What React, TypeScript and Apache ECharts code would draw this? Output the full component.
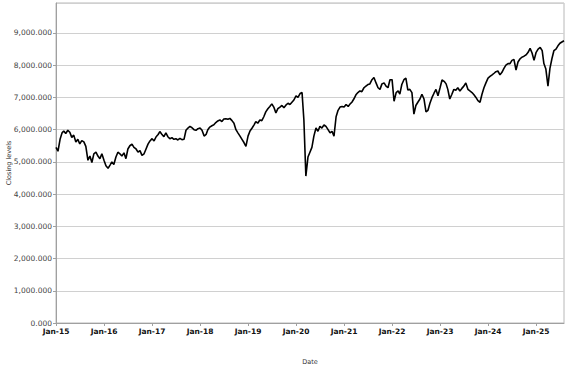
import React, { useEffect, useRef } from "react";
import * as echarts from "echarts";

const c2015 = [5450, 5330, 5700, 5900, 5960, 5880, 5980, 5920, 5760, 5830, 5620, 5700, 5560, 5660, 5620, 5480, 5050, 5180, 4980, 5250, 5300, 5180, 5100, 5250];
const c2016 = [5050, 4880, 4800, 4900, 5000, 4920, 5150, 5300, 5250, 5180, 5280, 5100, 5400, 5500, 5550, 5450, 5400, 5300, 5350, 5200, 5250, 5400, 5550, 5650];
const c2017 = [5720, 5650, 5780, 5850, 5940, 5860, 5780, 5900, 5780, 5720, 5750, 5700, 5720, 5680, 5730, 5690, 5700, 5980, 6050, 6100, 6060, 6000, 5980, 6030];
const c2018 = [6050, 5980, 5800, 5850, 6000, 6080, 6120, 6150, 6220, 6270, 6300, 6250, 6330, 6340, 6320, 6350, 6280, 6200, 6000, 5900, 5800, 5700, 5600, 5480];
const c2019 = [5800, 5960, 6050, 6150, 6250, 6200, 6300, 6280, 6400, 6550, 6650, 6720, 6800, 6700, 6520, 6650, 6700, 6750, 6680, 6760, 6820, 6780, 6850, 6920];
const c2020 = [7050, 7000, 7120, 7150, 6300, 4560, 5150, 5300, 5450, 5800, 6050, 5950, 6100, 6050, 6150, 6100, 6000, 5900, 5950, 5800, 6400, 6600, 6700, 6720];
const c2021 = [6700, 6780, 6720, 6800, 6850, 6950, 7080, 7150, 7200, 7180, 7300, 7350, 7400, 7420, 7550, 7620, 7450, 7300, 7250, 7420, 7450, 7350, 7300, 7550];
const c2022 = [7550, 6880, 7150, 7200, 7100, 7400, 7550, 7600, 7230, 7250, 7150, 6480, 6750, 6850, 6950, 7100, 6950, 6550, 6600, 6820, 7000, 7130, 7250, 7050];
const c2023 = [7300, 7540, 7500, 7420, 7250, 6950, 7100, 7250, 7220, 7300, 7200, 7280, 7350, 7450, 7250, 7200, 7150, 7080, 7000, 6900, 6850, 7100, 7300, 7450];
const c2024 = [7600, 7650, 7700, 7750, 7800, 7820, 7700, 7780, 7900, 8000, 8050, 8050, 8150, 8180, 7850, 8100, 8200, 8250, 8280, 8320, 8400, 8520, 8380, 8150];
const c2025 = [8400, 8500, 8550, 8450, 8050, 7880, 7350, 7900, 8200, 8450, 8500, 8600, 8680, 8720, 8760];

const yearlyCloses: [number, number[]][] = [
  [2015, c2015], [2016, c2016], [2017, c2017], [2018, c2018], [2019, c2019], [2020, c2020],
  [2021, c2021], [2022, c2022], [2023, c2023], [2024, c2024], [2025, c2025],
];

const xStart = Date.UTC(2015, 0, 1);
const xEnd = Date.UTC(2025, 7, 1);
const yearMs = 365.25 * 86400000;

export default function App() {
  const ref = useRef<HTMLDivElement>(null);
  useEffect(() => {
    if (!ref.current) return;
    const chart = echarts.init(ref.current, undefined, { renderer: "svg" });
    const data: [number, number][] = [];
    yearlyCloses.forEach(([year, vals]) => {
      vals.forEach((v, i) => {
        const month = Math.floor(i / 2);
        const day = i % 2 === 0 ? 1 : 16;
        data.push([Date.UTC(year, month, day), v]);
      });
    });
    chart.setOption({
      animation: false,
      backgroundColor: "#ffffff",
      grid: {
        left: 56, right: 13, top: 3, bottom: 44,
        show: true, borderColor: "#b8b8b8", borderWidth: 1,
        containLabel: false, outerBoundsMode: "none",
      },
      xAxis: {
        type: "value",
        min: xStart,
        max: xEnd,
        interval: yearMs,
        name: "Date",
        nameLocation: "middle",
        nameGap: 35,
        nameMoveOverlap: false,
        nameTextStyle: { fontFamily: "DejaVu Sans", fontSize: 6.5, color: "#333" },
        axisLine: { show: true, lineStyle: { color: "#a0a0a0" } },
        axisTick: { show: true, length: 3, lineStyle: { color: "#a0a0a0" } },
        splitLine: { show: false },
        axisLabel: {
          showMaxLabel: false,
          margin: 4,
          fontFamily: "DejaVu Sans",
          fontSize: 7.5,
          fontWeight: "bold",
          color: "#111",
          formatter: (v: number) => {
            const d = new Date(v + 15 * 86400000);
            return "Jan-" + String(d.getUTCFullYear()).slice(2);
          },
        },
      },
      yAxis: {
        type: "value",
        min: 0,
        max: 9930,
        interval: 1000,
        name: "Closing levels",
        nameLocation: "middle",
        nameGap: 44,
        nameMoveOverlap: false,
        nameTextStyle: { fontFamily: "DejaVu Sans", fontSize: 6.5, color: "#333" },
        axisLine: { show: true, lineStyle: { color: "#a0a0a0" } },
        axisTick: { show: true, length: 3, lineStyle: { color: "#a0a0a0" } },
        splitLine: { show: true, lineStyle: { color: "#d0d0d0", width: 1 } },
        axisLabel: {
          showMaxLabel: false,
          margin: 4,
          fontFamily: "DejaVu Sans",
          fontSize: 7.5,
          color: "#444",
          formatter: (v: number) =>
            v.toLocaleString("en-US", { minimumFractionDigits: 3, maximumFractionDigits: 3 }),
        },
      },
      series: [
        {
          type: "line",
          data,
          showSymbol: false,
          symbol: "none",
          lineStyle: { color: "#000", width: 1.6 },
        },
      ],
    });
    return () => chart.dispose();
  }, []);
  return (
    <div
      ref={ref}
      style={{ position: "fixed", left: 0, top: 0, width: 577, height: 367 }}
    />
  );
}
